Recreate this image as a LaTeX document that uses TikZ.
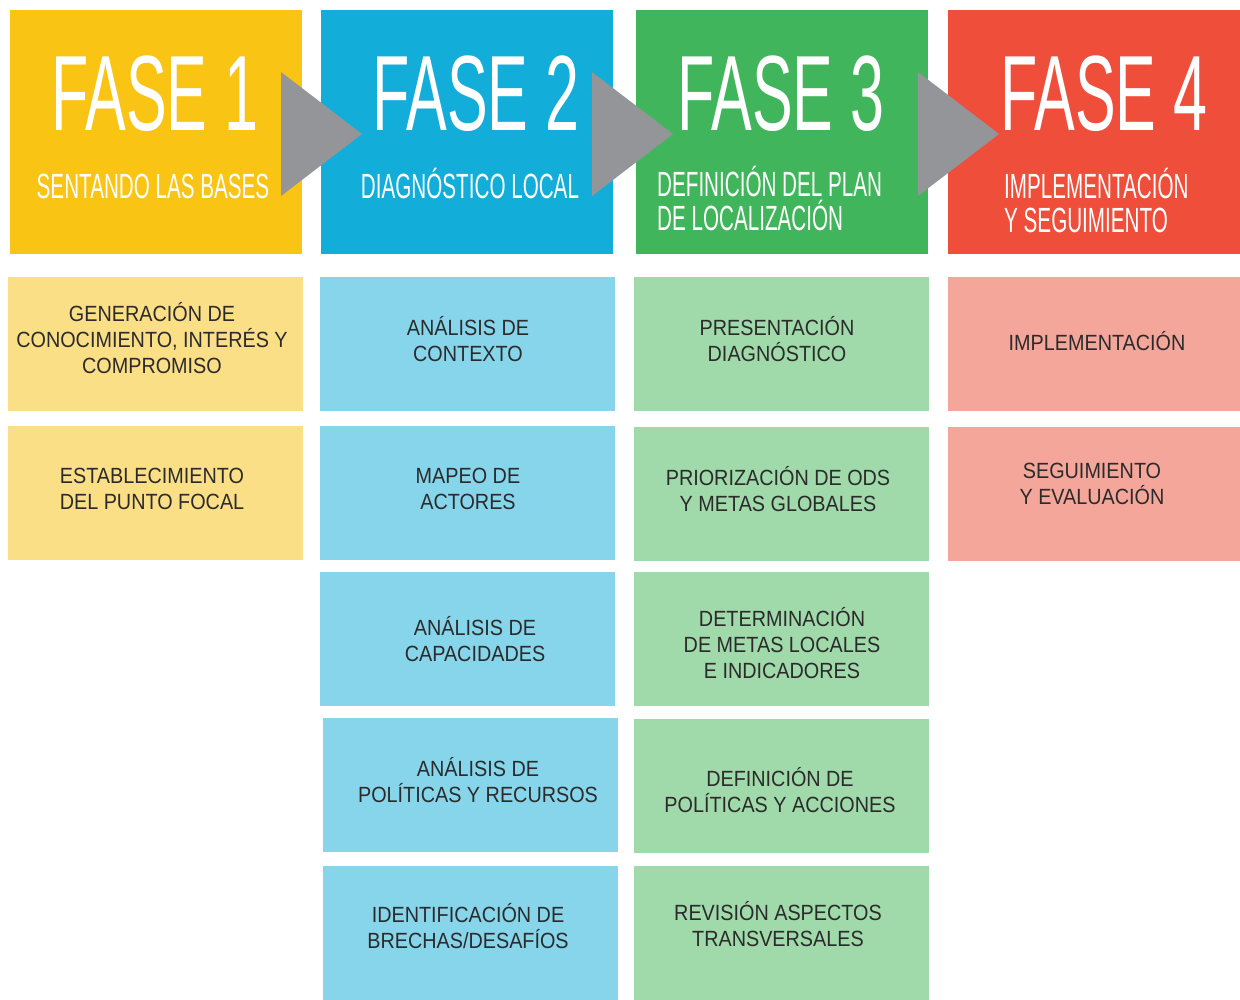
\documentclass[tikz,border=0pt]{standalone}
\usepackage{fontspec}
\setmainfont{Liberation Sans}
\newfontfamily\headfont[FakeStretch=0.57]{Liberation Sans}
\newfontfamily\subfont[FakeStretch=0.59]{Liberation Sans}
\newfontfamily\bodyfont[FakeStretch=0.9]{Liberation Sans}
\definecolor{hyel}{HTML}{F9C413}
\definecolor{hblu}{HTML}{12AED9}
\definecolor{hgrn}{HTML}{41B55B}
\definecolor{hred}{HTML}{EF4E3A}
\definecolor{lyel}{HTML}{FADF87}
\definecolor{lblu}{HTML}{86D5EB}
\definecolor{lgrn}{HTML}{A0D9AA}
\definecolor{lred}{HTML}{F5A69A}
\definecolor{arrowgray}{HTML}{939598}
\definecolor{txtgray}{HTML}{2B2B2B}
\begin{document}
\begin{tikzpicture}[x=1pt,y=-1pt,
  hbox/.style={draw=none,inner sep=0,outer sep=0,minimum width=292pt,minimum height=244pt,anchor=north west},
  cbox/.style={draw=none,inner sep=0,outer sep=0,minimum width=295pt,minimum height=134pt,anchor=north west},
  bigtxt/.style={inner sep=0,text=white,font=\headfont\fontsize{107}{107}\selectfont,anchor=base},
  subtxt/.style={inner sep=0,text=white,font=\subfont\fontsize{35}{34}\selectfont},
  btxt/.style={inner sep=0,text=txtgray,align=center,font=\bodyfont\fontsize{22}{26}\selectfont}]
\useasboundingbox (0,0) rectangle (1240,999);
% header boxes
\node[hbox,fill=hyel] (h1) at (10,10) {};
\node[hbox,fill=hblu] (h2) at (321,10) {};
\node[hbox,fill=hgrn] (h3) at (636,10) {};
\node[hbox,fill=hred] (h4) at (948,10) {};
% arrows
\fill[arrowgray] (281,72) -- (362,134) -- (281,196) -- cycle;
\fill[arrowgray] (592,72) -- (673,134) -- (592,196) -- cycle;
\fill[arrowgray] (918,72) -- (999,134) -- (918,196) -- cycle;
% header texts
\node[bigtxt] (f1) at (155,130) {FASE 1};
\node[bigtxt] (f2) at (476,130) {FASE 2};
\node[bigtxt] (f3) at (781,130) {FASE 3};
\node[bigtxt] (f4) at (1104,130) {FASE 4};
\node[subtxt,anchor=base] (s1) at (153,198) {SENTANDO LAS BASES};
\node[subtxt,anchor=base] (s2) at (470,198) {DIAGNÓSTICO LOCAL};
\node[subtxt,anchor=base west,align=left] (s3) at (657,230) {DEFINICIÓN DEL PLAN\\DE LOCALIZACIÓN};
\node[subtxt,anchor=base west,align=left] (s4) at (1004,232) {IMPLEMENTACIÓN\\Y SEGUIMIENTO};
% column 1
\node[cbox,fill=lyel] (a1) at (8,277) {};
\node[cbox,fill=lyel] (a2) at (8,426) {};
% column 2
\node[cbox,fill=lblu] (b1) at (320,277) {};
\node[cbox,fill=lblu] (b2) at (320,426) {};
\node[cbox,fill=lblu] (b3) at (320,572) {};
\node[cbox,fill=lblu] (b4) at (323,718) {};
\node[cbox,fill=lblu] (b5) at (323,866) {};
% column 3
\node[cbox,fill=lgrn] (c1) at (634,277) {};
\node[cbox,fill=lgrn] (c2) at (634,427) {};
\node[cbox,fill=lgrn] (c3) at (634,572) {};
\node[cbox,fill=lgrn] (c4) at (634,719) {};
\node[cbox,fill=lgrn] (c5) at (634,866) {};
% column 4
\node[cbox,fill=lred,minimum width=292pt] (d1) at (948,277) {};
\node[cbox,fill=lred,minimum width=292pt] (d2) at (948,427) {};
% texts
\node[btxt] (ta1) at (152,338) {GENERACIÓN DE\\CONOCIMIENTO, INTERÉS Y\\COMPROMISO};
\node[btxt] (ta2) at (152,489) {ESTABLECIMIENTO\\DEL PUNTO FOCAL};
\node[btxt] (tb1) at (468,339) {ANÁLISIS DE\\CONTEXTO};
\node[btxt] (tb2) at (468,489) {MAPEO DE\\ACTORES};
\node[btxt] (tb3) at (475,639) {ANÁLISIS DE\\CAPACIDADES};
\node[btxt] (tb4) at (478,780) {ANÁLISIS DE\\POLÍTICAS Y RECURSOS};
\node[btxt] (tb5) at (468,926) {IDENTIFICACIÓN DE\\BRECHAS/DESAFÍOS};
\node[btxt] (tc1) at (777,339) {PRESENTACIÓN\\DIAGNÓSTICO};
\node[btxt] (tc2) at (778,489) {PRIORIZACIÓN DE ODS\\Y METAS GLOBALES};
\node[btxt] (tc3) at (782,643) {DETERMINACIÓN\\DE METAS LOCALES\\E INDICADORES};
\node[btxt] (tc4) at (780,790) {DEFINICIÓN DE\\POLÍTICAS Y ACCIONES};
\node[btxt] (tc5) at (778,924) {REVISIÓN ASPECTOS\\TRANSVERSALES};
\node[btxt] (td1) at (1097,341) {IMPLEMENTACIÓN};
\node[btxt] (td2) at (1092,484) {SEGUIMIENTO\\Y EVALUACIÓN};
\end{tikzpicture}
\end{document}
